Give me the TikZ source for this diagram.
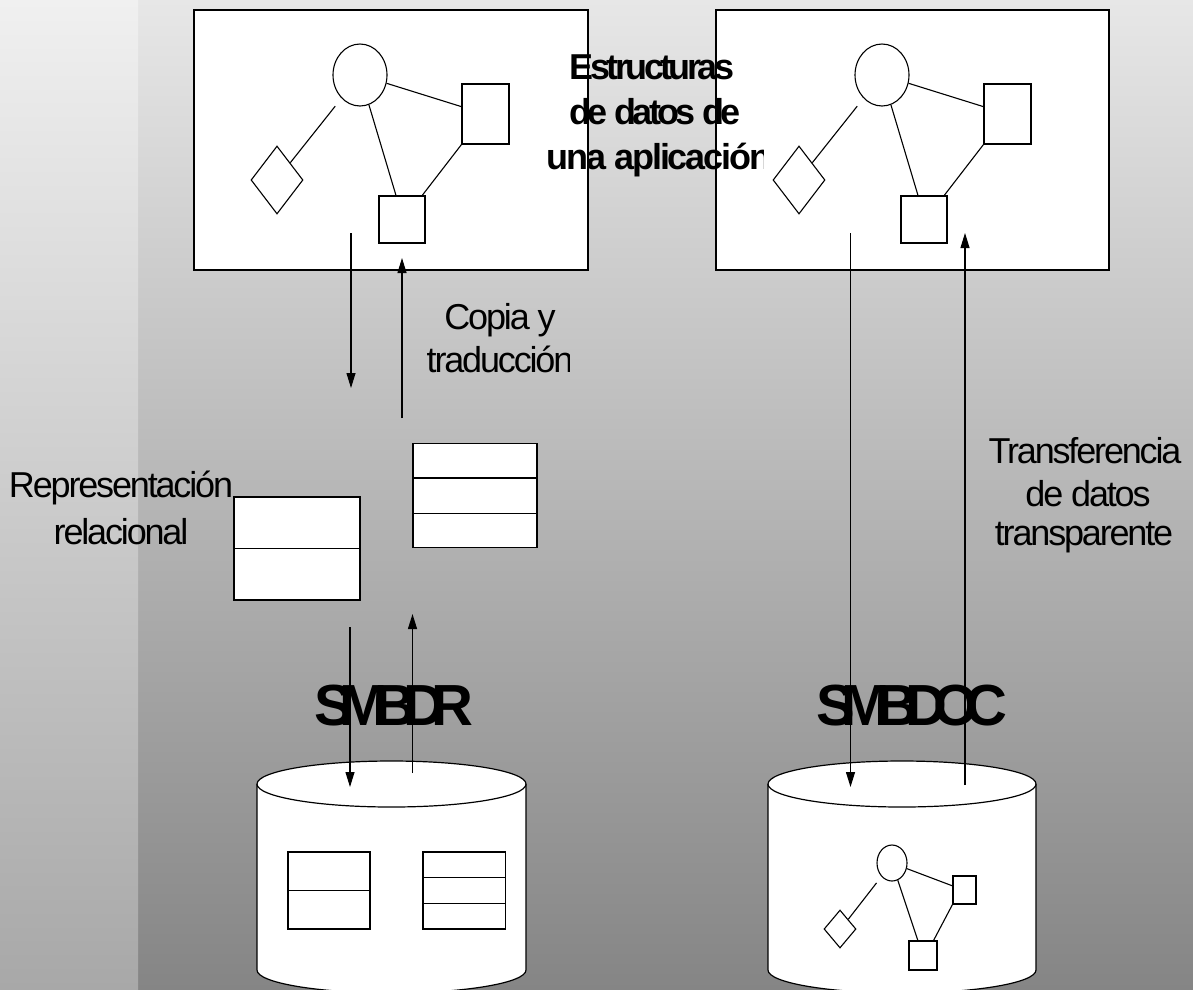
\documentclass[tikz,border=0pt]{standalone}
\usepackage{fontspec}
\setmainfont{Liberation Sans}
\newfontfamily\lblfont[LetterSpace=-6]{Liberation Sans}
\newfontfamily\headfont[LetterSpace=-10]{Liberation Sans}
\newfontfamily\headwide[LetterSpace=-6]{Liberation Sans}
\newfontfamily\dbfont[LetterSpace=-23]{Liberation Sans}
\usetikzlibrary{shapes.geometric,arrows.meta,calc}

\definecolor{stripTop}{RGB}{240,240,240}
\definecolor{stripBot}{RGB}{168,168,168}
\definecolor{mainTop}{RGB}{231,231,231}
\definecolor{mainBot}{RGB}{133,133,133}

\begin{document}
\begin{tikzpicture}[x=1pt,y=-1pt,
  panel/.style={draw, line width=1.3pt, fill=white, rectangle, inner sep=0pt},
  ent/.style={draw, line width=1.1pt, fill=white, rectangle, inner sep=0pt},
  rel/.style={draw, line width=1.1pt, fill=white, ellipse, inner sep=0pt},
  link/.style={draw, line width=1.1pt, diamond, fill=white, inner sep=0pt},
  edge/.style={line width=1.1pt},
  tbl/.style={draw, line width=1.1pt, fill=white, rectangle, inner sep=0pt},
  flow/.style={line width=1.1pt, -{Triangle[length=15pt,width=9pt]}},
  dbline/.style={line width=1.2pt},
  lbl/.style={font=\lblfont\fontsize{36}{43}\selectfont, inner sep=0pt, anchor=base},
  head/.style={font=\headfont\bfseries\fontsize{36}{44}\selectfont, inner sep=0pt, anchor=base},
  dbname/.style={font=\dbfont\bfseries\fontsize{58}{60}\selectfont, inner sep=0pt, anchor=base west}
]
\useasboundingbox (0,0) rectangle (1193,989);
\clip (0,0) rectangle (1193,989);

% background
\shade[top color=mainTop, bottom color=mainBot] (0,0) rectangle (1193,989);
\shade[top color=stripTop, bottom color=stripBot] (0,0) rectangle (138,989);

% application panels
\node[panel, minimum width=394pt, minimum height=260pt] (appL) at (391,140) {};
\node[panel, minimum width=393pt, minimum height=260pt] (appR) at (912.5,140) {};

% object graphs inside the panels
\foreach \o/\p in {0/L, 522/R} {
  \node[rel, minimum width=54pt, minimum height=62pt] (c\p) at (360+\o,75) {};
  \node[ent, minimum width=47pt, minimum height=60pt] (r\p) at (485.5+\o,114) {};
  \node[ent, minimum width=46pt, minimum height=47pt] (s\p) at (402+\o,219.5) {};
  \node[link, minimum width=52pt, minimum height=68pt] (d\p) at (277+\o,180) {};
  \draw[edge, shorten <=10pt] (c\p) -- (d\p.north east);
  \draw[edge] (c\p) -- (r\p.163);
  \draw[edge] (c\p) -- (s\p.104);
  \draw[edge] (r\p.south west) -- (s\p.50);
}

% relational tables
\node[tbl, minimum width=126pt, minimum height=103pt] (t1) at (297,548.5) {};
\draw[edge] ($(t1.north west)!0.5!(t1.south west)$) -- ($(t1.north east)!0.5!(t1.south east)$);
\node[tbl, minimum width=124pt, minimum height=104pt] (t2) at (475,495.5) {};
\draw[edge] ($(t2.north west)!0.333!(t2.south west)$) -- ($(t2.north east)!0.333!(t2.south east)$);
\draw[edge] ($(t2.north west)!0.667!(t2.south west)$) -- ($(t2.north east)!0.667!(t2.south east)$);

% relational database cylinder
\fill[white] (257,784) -- (257,970) arc[start angle=180,end angle=360,x radius=134.5pt,y radius=23pt] -- (526,784) -- cycle;
\draw[dbline] (257,784) -- (257,970) arc[start angle=180,end angle=360,x radius=134.5pt,y radius=23pt] -- (526,784);
\node[draw, dbline, fill=white, ellipse, inner sep=0pt, minimum width=269pt, minimum height=46pt] (db1) at (391.5,784) {};
\node[tbl, minimum width=82pt, minimum height=77pt] (t3) at (329,890.5) {};
\draw[edge] ($(t3.north west)!0.5!(t3.south west)$) -- ($(t3.north east)!0.5!(t3.south east)$);
\node[tbl, minimum width=82.5pt, minimum height=77pt] (t4) at (464.25,890.5) {};
\draw[edge] ($(t4.north west)!0.333!(t4.south west)$) -- ($(t4.north east)!0.333!(t4.south east)$);
\draw[edge] ($(t4.north west)!0.667!(t4.south west)$) -- ($(t4.north east)!0.667!(t4.south east)$);

% object database cylinder
\fill[white] (768,784) -- (768,970) arc[start angle=180,end angle=360,x radius=134pt,y radius=23pt] -- (1036,784) -- cycle;
\draw[dbline] (768,784) -- (768,970) arc[start angle=180,end angle=360,x radius=134pt,y radius=23pt] -- (1036,784);
\node[draw, dbline, fill=white, ellipse, inner sep=0pt, minimum width=268pt, minimum height=46pt] (db2) at (902,784) {};
\node[rel, minimum width=30pt, minimum height=36pt] (c3) at (892,863) {};
\node[ent, minimum width=23pt, minimum height=28pt] (r3) at (964.5,890) {};
\node[ent, minimum width=28pt, minimum height=29pt] (s3) at (923,955.5) {};
\node[link, minimum width=32pt, minimum height=38pt] (d3) at (840,929) {};
\draw[edge, shorten <=8pt] (c3) -- (d3.north east);
\draw[edge] (c3) -- (r3.161);
\draw[edge] (c3) -- (s3.109);
\draw[edge] (r3.south west) -- (s3.55);

% data flows
\coordinate (fA0) at (351,233);   \coordinate (fA1) at (351,388);
\coordinate (fB0) at (402,418);   \coordinate (fB1) at (402,258);
\coordinate (fC0) at (350,627);   \coordinate (fC1) at (350,787);
\coordinate (fD0) at (412.5,773); \coordinate (fD1) at (412.5,614);
\coordinate (fE0) at (850.5,233); \coordinate (fE1) at (850.5,787);
\coordinate (fF0) at (965,785);   \coordinate (fF1) at (965,233);
\foreach \f in {A,B,C,D,E,F} \draw[flow] (f\f0) -- (f\f1);

% labels
\begin{scope}
  \clip (0,0) rectangle (763,989);
  \node[head] (h1) at (652,79) {Estructuras};
  \node[head] (h2) at (655,124) {de datos de};
  \node[head, font=\headwide\bfseries\fontsize{36}{44}\selectfont] (h3) at (659,169) {una aplicación};
\end{scope}
\begin{scope}
  \clip (0,0) rectangle (232,989);
  \node[lbl] (rep1) at (121,497) {Representación};
  \node[lbl] (rep2) at (121,544) {relacional};
\end{scope}
\begin{scope}
  \clip (0,0) rectangle (569,989);
  \node[lbl] (cop1) at (500,329) {Copia y};
  \node[lbl] (cop2) at (500,372) {traducción};
\end{scope}
\begin{scope}
  \clip (0,0) rectangle (1184,989);
  \node[lbl] (tr1) at (1085,463) {Transferencia};
  \node[lbl] (tr2) at (1088,506) {de datos};
  \node[lbl] (tr3) at (1084,545) {transparente};
\end{scope}
\begin{scope}
  \clip (0,0) rectangle (471,989);
  \node[dbname] (smr) at (314,725) {SMBDR};
\end{scope}
\begin{scope}
  \clip (0,0) rectangle (1010,989);
  \node[dbname] (smo) at (816,725) {SMBDOC};
\end{scope}
\end{tikzpicture}
\end{document}
